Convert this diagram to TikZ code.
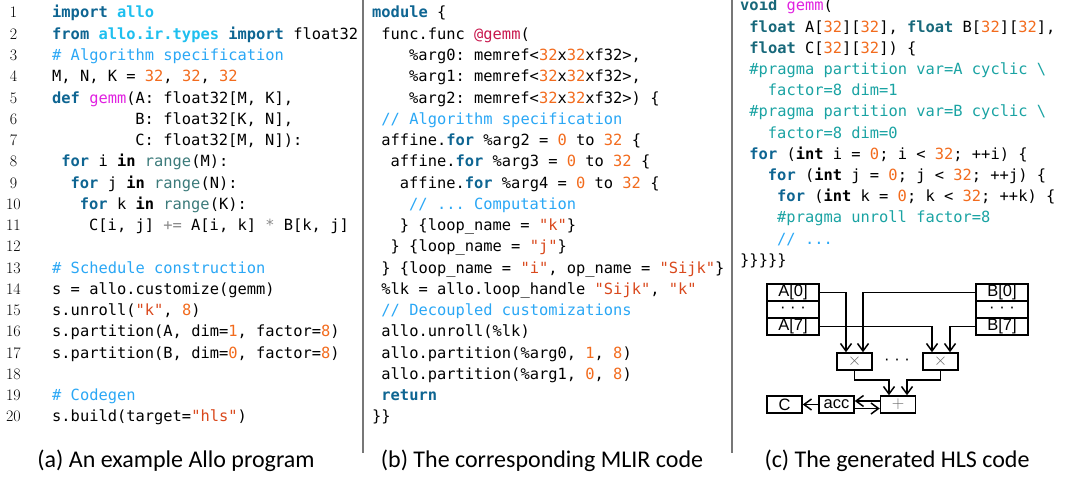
\documentclass[tikz,border=0pt]{standalone}
\usepackage{fontspec}
\setmonofont{DejaVu Sans Mono}
\newfontfamily\capfont{Carlito}
\newfontfamily\diagfont{Liberation Sans}
\usetikzlibrary{arrows.meta}
\definecolor{kwc}{HTML}{0E6592}
\definecolor{ktc}{HTML}{17687A}
\definecolor{cyc}{HTML}{1EBFEF}
\definecolor{cmc}{HTML}{2AA7F5}
\definecolor{numc}{HTML}{F26B1D}
\definecolor{strc}{HTML}{D9481C}
\definecolor{fnc}{HTML}{E021E0}
\definecolor{atc}{HTML}{C8174D}
\definecolor{prc}{HTML}{1AA3A3}
\definecolor{rgc}{HTML}{3B7A7A}
\definecolor{opc}{HTML}{8A8A8A}
\definecolor{sepc}{HTML}{777777}
\newcommand\kw[1]{\textcolor{kwc}{\textbf{#1}}}
\newcommand\kt[1]{\textcolor{ktc}{\textbf{#1}}}
\newcommand\kb[1]{\textbf{#1}}
\newcommand\cy[1]{\textcolor{cyc}{\textbf{#1}}}
\newcommand\cm[1]{\textcolor{cmc}{#1}}
\newcommand\nm[1]{\textcolor{numc}{#1}}
\newcommand\cstr[1]{\textcolor{strc}{#1}}
\newcommand\fn[1]{\textcolor{fnc}{#1}}
\newcommand\atf[1]{\textcolor{atc}{#1}}
\newcommand\pr[1]{\textcolor{prc}{#1}}
\newcommand\rg[1]{\textcolor{rgc}{#1}}
\newcommand\op[1]{\textcolor{opc}{#1}}
\begin{document}
\begin{tikzpicture}[x=1pt,y=-1pt,
  code/.style={anchor=base west, inner sep=0pt, font=\ttfamily\fontsize{15.4}{18}\selectfont\frenchspacing},
  lno/.style={anchor=base, inner sep=0pt, font=\fontsize{16}{18}\selectfont},
  captext/.style={anchor=base, inner sep=0pt, font=\capfont\fontsize{24}{26}\selectfont},
  sepline/.style={draw=sepc, line width=1.4pt},
  box/.style={draw, line width=1.5pt, minimum width=52pt, minimum height=17pt, inner sep=0pt, font=\diagfont\fontsize{16.5}{16}\selectfont},
  opbox/.style={box, minimum width=35pt},
  sym/.style={text=black!60, font=\fontsize{19}{19}\selectfont},
  arr/.style={-{Straight Barb[length=7.5pt,width=11pt,line width=1.5pt]}, line width=1.5pt}]
\useasboundingbox (0,0) rectangle (1068,478);
% separators
\coordinate (s1t) at (363,0); \coordinate (s1b) at (363,453);
\coordinate (s2t) at (732,0); \coordinate (s2b) at (732,453);
\draw[sepline] (s1t) -- (s1b);
\draw[sepline] (s2t) -- (s2b);
% line numbers
\foreach \i in {1,...,20} \node[lno] (ln\i) at (13.5,{18+(\i-1)*21.26}) {\i};
% ---- panel (a)
\node[code] (a1) at (52,{18+21.26*0}) {\kw{import} \cy{allo}};
\node[code] (a2) at (52,{18+21.26*1}) {\kw{from} \cy{allo.ir.types} \kw{import} float32};
\node[code] (a3) at (52,{18+21.26*2}) {\cm{\# Algorithm specification}};
\node[code] (a4) at (52,{18+21.26*3}) {M, N, K = \nm{32}, \nm{32}, \nm{32}};
\node[code] (a5) at (52,{18+21.26*4}) {\kw{def} \fn{gemm}(A: float32[M, K],};
\node[code] (a6) at ({52+9.25*9},{18+21.26*5}) {B: float32[K, N],};
\node[code] (a7) at ({52+9.25*9},{18+21.26*6}) {C: float32[M, N]):};
\node[code] (a8) at ({52+9.25*1},{18+21.26*7}) {\kw{for} i \kb{in} \rg{range}(M):};
\node[code] (a9) at ({52+9.25*2},{18+21.26*8}) {\kw{for} j \kb{in} \rg{range}(N):};
\node[code] (a10) at ({52+9.25*3},{18+21.26*9}) {\kw{for} k \kb{in} \rg{range}(K):};
\node[code] (a11) at ({52+9.25*4},{18+21.26*10}) {C[i, j] \op{+=} A[i, k] \op{*} B[k, j]};
\node[code] (a13) at (52,{18+21.26*12}) {\cm{\# Schedule construction}};
\node[code] (a14) at (52,{18+21.26*13}) {s = allo.customize(gemm)};
\node[code] (a15) at (52,{18+21.26*14}) {s.unroll(\cstr{"k"}, \nm{8})};
\node[code] (a16) at (52,{18+21.26*15}) {s.partition(A, dim=\nm{1}, factor=\nm{8})};
\node[code] (a17) at (52,{18+21.26*16}) {s.partition(B, dim=\nm{0}, factor=\nm{8})};
\node[code] (a19) at (52,{18+21.26*18}) {\cm{\# Codegen}};
\node[code] (a20) at (52,{18+21.26*19}) {s.build(target=\cstr{"hls"})};
% ---- panel (b)
\node[code] (b1) at (372,{18+21.26*0}) {\kw{module} \{};
\node[code] (b2) at ({372+9.25*1},{18+21.26*1}) {func.func \atf{@gemm}(};
\node[code] (b3) at ({372+9.25*4},{18+21.26*2}) {\%arg0: memref<\nm{32}x\nm{32}xf32>,};
\node[code] (b4) at ({372+9.25*4},{18+21.26*3}) {\%arg1: memref<\nm{32}x\nm{32}xf32>,};
\node[code] (b5) at ({372+9.25*4},{18+21.26*4}) {\%arg2: memref<\nm{32}x\nm{32}xf32>) \{};
\node[code] (b6) at ({372+9.25*1},{18+21.26*5}) {\cm{// Algorithm specification}};
\node[code] (b7) at ({372+9.25*1},{18+21.26*6}) {affine.\kw{for} \%arg2 = \nm{0} to \nm{32} \{};
\node[code] (b8) at ({372+9.25*2},{18+21.26*7}) {affine.\kw{for} \%arg3 = \nm{0} to \nm{32} \{};
\node[code] (b9) at ({372+9.25*3},{18+21.26*8}) {affine.\kw{for} \%arg4 = \nm{0} to \nm{32} \{};
\node[code] (b10) at ({372+9.25*4},{18+21.26*9}) {\cm{// ... Computation}};
\node[code] (b11) at ({372+9.25*3},{18+21.26*10}) {\} \{loop\_name = \cstr{"k"}\}};
\node[code] (b12) at ({372+9.25*2},{18+21.26*11}) {\} \{loop\_name = \cstr{"j"}\}};
\node[code] (b13) at ({372+9.25*1},{18+21.26*12}) {\} \{loop\_name = \cstr{"i"}, op\_name = \cstr{"Sijk"}\}};
\node[code] (b14) at ({372+9.25*1},{18+21.26*13}) {\%lk = allo.loop\_handle \cstr{"Sijk"}, \cstr{"k"}};
\node[code] (b15) at ({372+9.25*1},{18+21.26*14}) {\cm{// Decoupled customizations}};
\node[code] (b16) at ({372+9.25*1},{18+21.26*15}) {allo.unroll(\%lk)};
\node[code] (b17) at ({372+9.25*1},{18+21.26*16}) {allo.partition(\%arg0, \nm{1}, \nm{8})};
\node[code] (b18) at ({372+9.25*1},{18+21.26*17}) {allo.partition(\%arg1, \nm{0}, \nm{8})};
\node[code] (b19) at ({372+9.25*1},{18+21.26*18}) {\kw{return}};
\node[code] (b20) at (372,{18+21.26*19}) {\}\}};
% ---- panel (c)
\node[code] (c1) at (740,{11+21.2*0}) {\kt{void} \fn{gemm}(};
\node[code] (c2) at ({740+9.25*1},{11+21.2*1}) {\kt{float} A[\nm{32}][\nm{32}], \kt{float} B[\nm{32}][\nm{32}],};
\node[code] (c3) at ({740+9.25*1},{11+21.2*2}) {\kt{float} C[\nm{32}][\nm{32}]) \{};
\node[code] (c4) at ({740+9.25*1},{11+21.2*3}) {\pr{\#pragma partition var=A cyclic \textbackslash}};
\node[code] (c5) at ({740+9.25*3},{11+21.2*4}) {\pr{factor=8 dim=1}};
\node[code] (c6) at ({740+9.25*1},{11+21.2*5}) {\pr{\#pragma partition var=B cyclic \textbackslash}};
\node[code] (c7) at ({740+9.25*3},{11+21.2*6}) {\pr{factor=8 dim=0}};
\node[code] (c8) at ({740+9.25*1},{11+21.2*7}) {\kw{for} (\kb{int} i = \nm{0}; i < \nm{32}; ++i) \{};
\node[code] (c9) at ({740+9.25*3},{11+21.2*8}) {\kw{for} (\kb{int} j = \nm{0}; j < \nm{32}; ++j) \{};
\node[code] (c10) at ({740+9.25*4},{11+21.2*9}) {\kw{for} (\kb{int} k = \nm{0}; k < \nm{32}; ++k) \{};
\node[code] (c11) at ({740+9.25*4},{11+21.2*10}) {\pr{\#pragma unroll factor=8}};
\node[code] (c12) at ({740+9.25*4},{11+21.2*11}) {\cm{// ...}};
\node[code] (c13) at (740,{11+21.2*12}) {\}\}\}\}\}};
% ---- hardware diagram
\node[box] (A0) at (793,292.5) {A[0]};
\node[box] (Ad) at (793,309.5) {· · ·};
\node[box] (A7) at (793,326.5) {A[7]};
\node[box] (B0) at (1002,292.5) {B[0]};
\node[box] (Bd) at (1002,309.5) {· · ·};
\node[box] (B7) at (1002,326.5) {B[7]};
\node[opbox] (m1) at (854.5,361.5) {};
\node[sym] (m1s) at (m1) {$\times$};
\node[opbox] (m2) at (940.5,361.5) {};
\node[sym] (m2s) at (m2) {$\times$};
\node[inner sep=0pt, font=\diagfont\fontsize{16.5}{16}\selectfont] (md) at (897,361.5) {· · ·};
\node[opbox] (add) at (898,404.5) {};
\node[sym] (adds) at (add) {$+$};
\node[opbox] (acc) at (836.5,404.5) {acc};
\node[opbox] (C) at (784.5,404.5) {C};
\draw[arr] (A0.east) -| ([xshift=-8.5pt]m1.north);
\draw[arr] (B0.west) -| ([xshift=8.5pt]m1.north);
\draw[arr] (A7.east) -| ([xshift=-8.5pt]m2.north);
\draw[arr] (B7.west) -| ([xshift=9.5pt]m2.north);
\draw[arr] (m1.south) -- ++(0,9) -| ([xshift=-9pt]add.north);
\draw[arr] (m2.south) -- ++(0,9) -| ([xshift=9pt]add.north);
\draw[arr] ([yshift=3.5pt]add.west) -- ([yshift=3.5pt]acc.east);
\draw[arr] ([yshift=-4pt]acc.east) -- ([yshift=-4pt]add.west);
\draw[arr] (acc.west) -- (C.east);
% ---- captions
\node[captext] (capa) at (176,467) {(a) An example Allo program};
\node[captext] (capb) at (542,467) {(b) The corresponding MLIR code};
\node[captext] (capc) at (897,467) {(c) The generated HLS code};
\end{tikzpicture}
\end{document}
